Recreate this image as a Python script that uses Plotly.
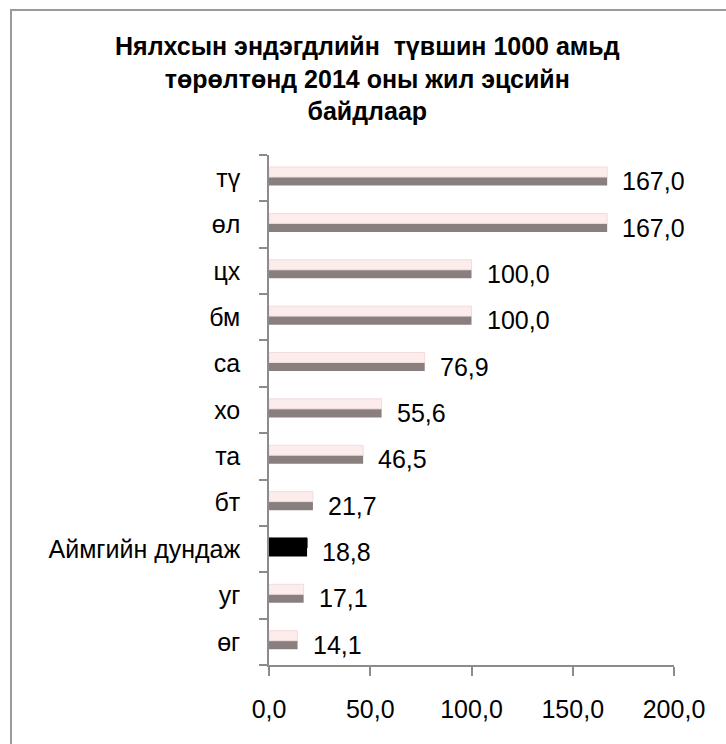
import plotly.graph_objects as go

categories = ["өг", "уг", "Аймгийн дундаж", "бт", "та", "хо", "са", "бм", "цх", "өл", "тү"]
values = [14.1, 17.1, 18.8, 21.7, 46.5, 55.6, 76.9, 100.0, 100.0, 167.0, 167.0]
highlight = "Аймгийн дундаж"
x_ticks = [0, 50, 100, 150, 200]
title_text = "Нялхсын эндэгдлийн  түвшин 1000 амьд<br>төрөлтөнд 2014 оны жил эцсийн<br>байдлаар"

FONT = "Liberation Sans, Arial, sans-serif"
W, H = 726, 744
L, R, T, B = 269, 52, 155, 79
PW, PH = W - L - R, H - T - B

front_colors = ["#000000" if c == highlight else "#8a7f7f" for c in categories]
top_colors = ["#000000" if c == highlight else "#fcecec" for c in categories]
line_colors = ["#000000" if c == highlight else "#f2dcdc" for c in categories]

fig = go.Figure()
# front face
fig.add_trace(go.Bar(
    y=categories, x=values, orientation="h",
    width=0.19, offset=-0.16,
    marker=dict(color=front_colors, line=dict(width=0)),
    hoverinfo="skip", showlegend=False,
))
# top face
fig.add_trace(go.Bar(
    y=categories, x=values, orientation="h",
    width=0.215, offset=0.025,
    marker=dict(color=top_colors, line=dict(width=1, color=line_colors)),
    hoverinfo="skip", showlegend=False,
))

for c, v in zip(categories, values):
    fig.add_annotation(
        x=v, y=c, xref="x", yref="y",
        text=f"{v:.1f}".replace(".", ","),
        showarrow=False, xanchor="left", yanchor="middle",
        xshift=13, yshift=-3,
        font=dict(family=FONT, size=25, color="#000000"),
    )

# title as annotation for precise placement
fig.add_annotation(
    x=(367 - L) / PW, y=(H - B - 30) / PH, xref="paper", yref="paper",
    text="<b>" + title_text.replace("<br>", "</b><br><b>") + "</b>",
    showarrow=False, xanchor="center", yanchor="top", align="center",
    font=dict(family=FONT, size=25, color="#000000"),
)

# partial frame (top and left edges)
fig.add_shape(type="rect", xref="paper", yref="paper",
              x0=(11 - L) / PW, x1=(W + 20 - L) / PW,
              y0=(H - B - (H + 20)) / PH, y1=(H - B - 10) / PH,
              line=dict(color="#9a9a9a", width=2), fillcolor="rgba(0,0,0,0)",
              layer="above")

fig.update_layout(
    width=W, height=H,
    margin=dict(l=L, r=R, t=T, b=B),
    paper_bgcolor="white", plot_bgcolor="white",
    barmode="overlay",
    separators=", ",
    font=dict(family=FONT, size=25, color="#000000"),
)
fig.update_xaxes(
    range=[0, 200], tickvals=x_ticks, tickformat=".1f",
    showgrid=False, zeroline=False,
    showline=True, linecolor="#8c8c8c", linewidth=1.5,
    ticks="outside", ticklen=9, tickcolor="#8c8c8c", tickwidth=1.5,
    ticklabelstandoff=12,
    tickfont=dict(family=FONT, size=25, color="#000000"),
)
fig.update_yaxes(
    categoryorder="array", categoryarray=categories,
    range=[-0.5, len(categories) - 0.5],
    showgrid=False, zeroline=False,
    showline=True, linecolor="#8c8c8c", linewidth=1.5,
    ticks="outside", ticklen=8, tickcolor="#8c8c8c", tickwidth=1.5,
    tickson="boundaries", ticklabelstandoff=22,
    tickfont=dict(family=FONT, size=25, color="#000000"),
)

fig.write_html("out.html", config={"displayModeBar": False},
               post_script="document.body.style.margin='0';document.body.style.overflow='hidden';")
